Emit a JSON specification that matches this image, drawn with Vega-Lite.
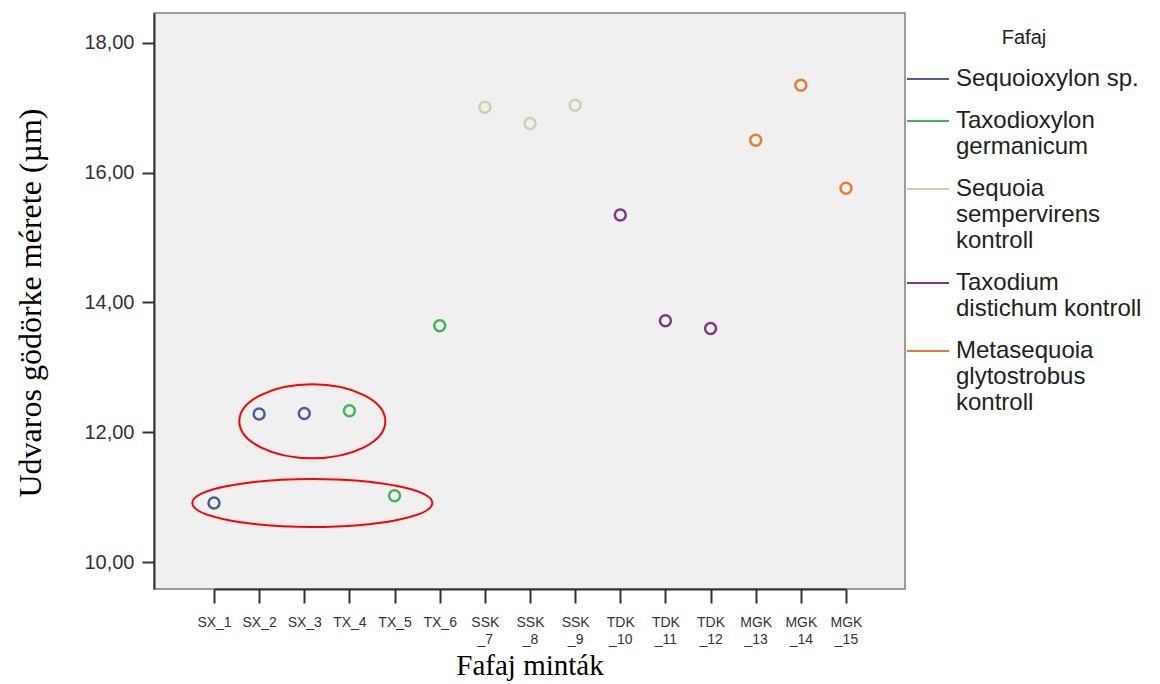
{
  "$schema": "https://vega.github.io/schema/vega-lite/v6.json",
  "width": 751,
  "height": 576,
  "autosize": {"type": "none"},
  "padding": {"left": 154, "top": 13, "right": 255, "bottom": 95},
  "background": "white",
  "config": {
    "view": {"fill": "#f0f0f0", "stroke": "#7f7f7f", "strokeWidth": 1.5},
    "font": "Liberation Sans"
  },
  "datasets": {
    "mintak": [
      {"minta": "SX_1", "fafaj": "Sequoioxylon sp.", "ertek": 10.91},
      {"minta": "SX_2", "fafaj": "Sequoioxylon sp.", "ertek": 12.28},
      {"minta": "SX_3", "fafaj": "Sequoioxylon sp.", "ertek": 12.29},
      {"minta": "TX_4", "fafaj": "Taxodioxylon germanicum", "ertek": 12.33},
      {"minta": "TX_5", "fafaj": "Taxodioxylon germanicum", "ertek": 11.02},
      {"minta": "TX_6", "fafaj": "Taxodioxylon germanicum", "ertek": 13.64},
      {"minta": "SSK_7", "fafaj": "Sequoia sempervirens kontroll", "ertek": 17.01},
      {"minta": "SSK_8", "fafaj": "Sequoia sempervirens kontroll", "ertek": 16.76},
      {"minta": "SSK_9", "fafaj": "Sequoia sempervirens kontroll", "ertek": 17.04},
      {"minta": "TDK_10", "fafaj": "Taxodium distichum kontroll", "ertek": 15.35},
      {"minta": "TDK_11", "fafaj": "Taxodium distichum kontroll", "ertek": 13.72},
      {"minta": "TDK_12", "fafaj": "Taxodium distichum kontroll", "ertek": 13.6},
      {"minta": "MGK_13", "fafaj": "Metasequoia glytostrobus kontroll", "ertek": 16.5},
      {"minta": "MGK_14", "fafaj": "Metasequoia glytostrobus kontroll", "ertek": 17.35},
      {"minta": "MGK_15", "fafaj": "Metasequoia glytostrobus kontroll", "ertek": 15.76}
    ],
    "jelolesek": [
      {"minta": "SX_3", "csoport": "felso", "ertek": 12.17},
      {"minta": "SX_3", "csoport": "also", "ertek": 10.91}
    ]
  },
  "encoding": {
    "x": {
      "field": "minta",
      "type": "nominal",
      "sort": null,
      "scale": {"type": "point", "padding": 0, "range": [60, 692]},
      "axis": {
        "title": "Fafaj minták",
        "titleFont": "Liberation Serif",
        "titleFontSize": 29,
        "titleFontWeight": "normal",
        "titleColor": "#000000",
        "titleBaseline": "alphabetic",
        "titleX": 375.5,
        "titleY": 85,
        "labelAngle": 0,
        "labelFont": "Liberation Sans",
        "labelFontSize": 14,
        "labelColor": "#333333",
        "labelPadding": 12,
        "labelLineHeight": 17,
        "labelExpr": "length(datum.label) > 4 ? [slice(datum.label, 0, 3), slice(datum.label, 3)] : datum.label",
        "tickSize": 14,
        "tickColor": "#333333",
        "tickWidth": 2,
        "domainColor": "#333333",
        "domainWidth": 2,
        "grid": false
      }
    },
    "y": {
      "field": "ertek",
      "type": "quantitative",
      "scale": {"domain": [9.584, 18.462], "nice": false, "zero": false},
      "axis": {
        "title": "Udvaros gödörke mérete (µm)",
        "titleFont": "Liberation Serif",
        "titleFontSize": 32,
        "titleFontWeight": "normal",
        "titleColor": "#000000",
        "titleAngle": -90,
        "titleBaseline": "middle",
        "titleAlign": "center",
        "titleX": -124,
        "titleY": 289.5,
        "values": [10, 12, 14, 16, 18],
        "labelExpr": "replace(format(datum.value, '.2f'), '.', ',')",
        "labelFont": "Liberation Sans",
        "labelFontSize": 20,
        "labelColor": "#333333",
        "labelPadding": 8,
        "tickSize": 12,
        "tickColor": "#333333",
        "tickWidth": 2,
        "domainColor": "#333333",
        "domainWidth": 2,
        "grid": false
      }
    }
  },
  "layer": [
    {
      "data": {"name": "mintak"},
      "mark": {"type": "point", "filled": false, "size": 120, "strokeWidth": 2.5, "opacity": 1},
      "encoding": {
        "color": {
          "field": "fafaj",
          "type": "nominal",
          "scale": {
            "domain": ["Sequoioxylon sp.", "Taxodioxylon germanicum", "Sequoia sempervirens kontroll", "Taxodium distichum kontroll", "Metasequoia glytostrobus kontroll"],
            "range": ["#4d5d96", "#3fb65a", "#cfd0a6", "#7b3b7f", "#e87b2e"]
          },
          "legend": {
            "title": "Fafaj",
            "orient": "none",
            "legendX": 752,
            "legendY": 15,
            "padding": 0,
            "titleFont": "Liberation Sans",
            "titleFontSize": 20,
            "titleFontWeight": "normal",
            "titleColor": "#222222",
            "titleAnchor": "middle",
            "titleAlign": "center",
            "titlePadding": 9,
            "symbolType": "stroke",
            "symbolSize": 1764,
            "symbolStrokeWidth": 2,
            "labelFont": "Liberation Sans",
            "labelFontSize": 24,
            "labelColor": "#222222",
            "labelOffset": 6,
            "labelLimit": 300,
            "labelLineHeight": 26,
            "rowPadding": 8,
            "labelExpr": "datum.label == 'Sequoioxylon sp.' ? datum.label : datum.label == 'Taxodium distichum kontroll' ? ['Taxodium', 'distichum kontroll'] : split(datum.label, ' ')"
          }
        }
      }
    },
    {
      "data": {"name": "jelolesek"},
      "transform": [{"filter": "datum.csoport == 'felso'"}],
      "mark": {
        "type": "point",
        "shape": "M-0.89,0 A1,0.507 0 1,1 1.11,0 A1,0.507 0 1,1 -0.89,0 Z",
        "size": 21316,
        "filled": false,
        "stroke": "#ff0000",
        "strokeWidth": 2,
        "opacity": 1
      }
    },
    {
      "data": {"name": "jelolesek"},
      "transform": [{"filter": "datum.csoport == 'also'"}],
      "mark": {
        "type": "point",
        "shape": "M-0.933,0 A1,0.2 0 1,1 1.067,0 A1,0.2 0 1,1 -0.933,0 Z",
        "size": 57600,
        "filled": false,
        "stroke": "#ff0000",
        "strokeWidth": 2,
        "opacity": 1
      }
    }
  ]
}
